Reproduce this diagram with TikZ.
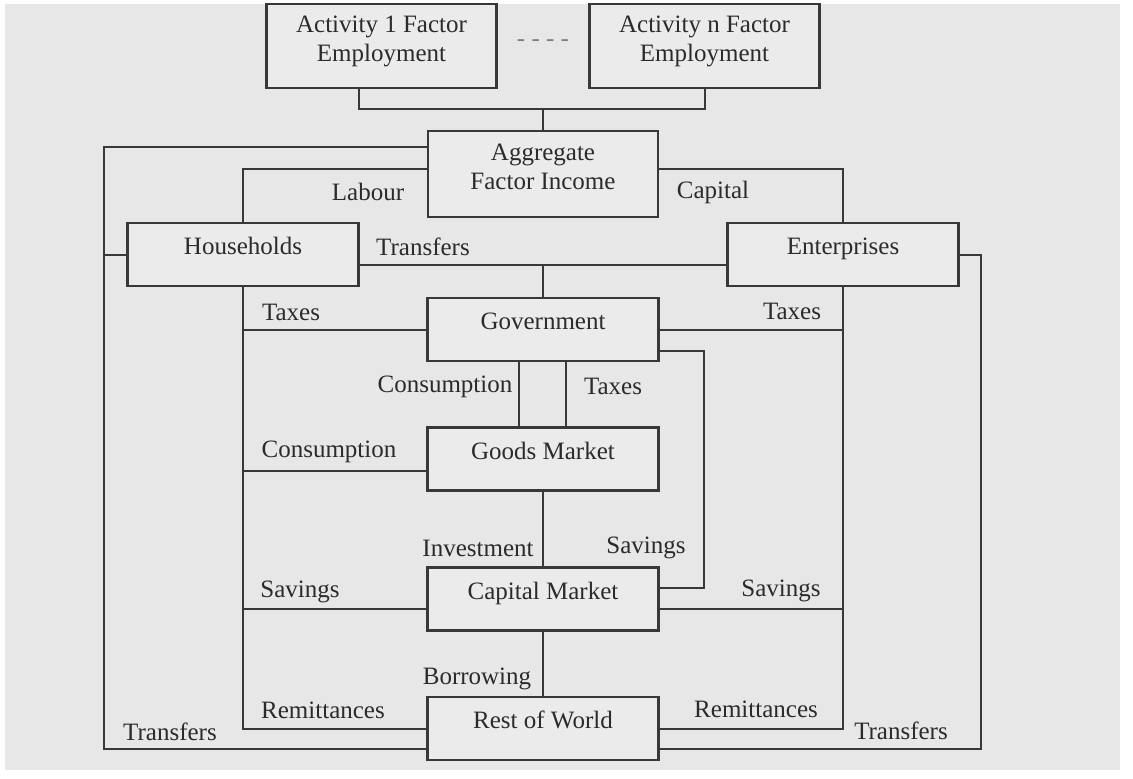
\documentclass[tikz,border=0pt]{standalone}
\usepackage{fontspec}
\setmainfont{Liberation Serif}
\definecolor{bggray}{HTML}{E7E7E7}
\definecolor{boxgray}{HTML}{EBEBEB}
\definecolor{linegray}{HTML}{383838}
\definecolor{textgray}{HTML}{2B2B2B}
\begin{document}
\begin{tikzpicture}[x=0.5pt, y=-0.5pt,
  font=\fontsize{12.5}{14.5}\selectfont, text=textgray,
  flow/.style={draw=linegray, line width=1pt},
  frame/.style={draw=linegray, line width=1.1pt, fill=boxgray},
  box/.style={frame, minimum width=115.5pt, minimum height=31.5pt, text height=9pt, text depth=9pt},
  bigbox/.style={frame, align=center, minimum width=115pt, text depth=7pt}]
  \useasboundingbox (0,0) rectangle (1133,778);
  \fill[white] (0,0) rectangle (1133,778);
  \fill[bggray] (5,4) rectangle (1120,770);
  % The factor part
  \node[bigbox, minimum height=42pt] (act1) at (381.5,46) {Activity 1 Factor\\Employment};
  \node[bigbox, minimum height=42pt] (actn) at (704.5,46) {Activity n Factor\\Employment};
  \node[text=gray] (dots) at (543,43) {- - - -};
  \node[bigbox, minimum height=43pt] (agg) at (543,174) {Aggregate\\Factor Income};
  \coordinate (bus) at (543,109);
  \draw[flow] ([xshift=-11.25pt]act1.south) |- (bus) -| (actn.south);
  \draw[flow] (agg.north) -- (bus);
  % institutions and markets
  \node[box] (hh) at (243,254.5) {Households};
  \node[box] (ent) at (843,254.5) {Enterprises};
  \node[box] (gov) at (543,329.5) {Government};
  \node[box] (goods) at (543,459) {Goods Market};
  \node[box] (capm) at (543,599) {Capital Market};
  \node[box] (row) at (543,728.5) {Rest of World};
  % outer transfers
  \coordinate (olt) at (104,147);
  \coordinate (olb) at (104,749);
  \coordinate (orb) at (981,749);
  \draw[flow] ([yshift=13.5pt]agg.west) -- (olt) -- (olb) -- (olb -| row.west);
  \draw[flow] (hh.west) -- (hh.west -| olt);
  \draw[flow] (ent.east) -| (orb) -- (orb -| row.east);
  % factor income to households and enterprises
  \draw[flow] ([yshift=2.5pt]agg.west) -| (hh.north);
  \draw[flow] ([yshift=2.5pt]agg.east) -| (ent.north);
  \draw[flow] ([yshift=-5.25pt]hh.east) coordinate (tr) -- ([yshift=-5.25pt]ent.west);
  \draw[flow] (gov.north) -- (gov.north |- tr);
  % households spine
  \draw[flow] (hh.south) |- (row.west);
  \draw[flow] (gov.west) -- (gov.west -| hh.south);
  \draw[flow] ([yshift=-6pt]goods.west) -- ([yshift=-6pt]goods.west -| hh.south);
  \draw[flow] ([yshift=-5pt]capm.west) -- ([yshift=-5pt]capm.west -| hh.south);
  % enterprises spine
  \draw[flow] (ent.south) |- (row.east);
  \draw[flow] (gov.east) -- (gov.east -| ent.south);
  \draw[flow] ([yshift=-5pt]capm.east) -- ([yshift=-5pt]capm.east -| ent.south);
  % the middle column
  \draw[flow] ([xshift=-12pt]gov.south) -- ([xshift=-12pt]goods.north);
  \draw[flow] ([xshift=11.5pt]gov.south) -- ([xshift=11.5pt]goods.north);
  \draw[flow] ([yshift=-10.75pt]gov.east) -- ++(22pt,0) |- ([yshift=5.5pt]capm.east);
  \draw[flow] (goods.south) -- (capm.north);
  \draw[flow] (capm.south) -- (row.north);
  % labels
  \node (lab) at (368,192) {Labour};
  \node (cap) at (713,192) {Capital};
  \node (trhh) at (423,247) {Transfers};
  \node (taxhh) at (291,312) {Taxes};
  \node (taxent) at (792,311) {Taxes};
  \node (consgov) at (445,387) {Consumption};
  \node (taxgov) at (613,386) {Taxes};
  \node (conshh) at (329,452) {Consumption};
  \node (inv) at (478,548) {Investment};
  \node (savgov) at (646,548) {Savings};
  \node (savhh) at (300,592) {Savings};
  \node (savent) at (781,591) {Savings};
  \node (borr) at (477,679) {Borrowing};
  \node (remhh) at (323,710) {Remittances};
  \node (rement) at (756,709) {Remittances};
  \node (trrowl) at (170,732) {Transfers};
  \node (trrowr) at (901,731) {Transfers};
\end{tikzpicture}
\end{document}
